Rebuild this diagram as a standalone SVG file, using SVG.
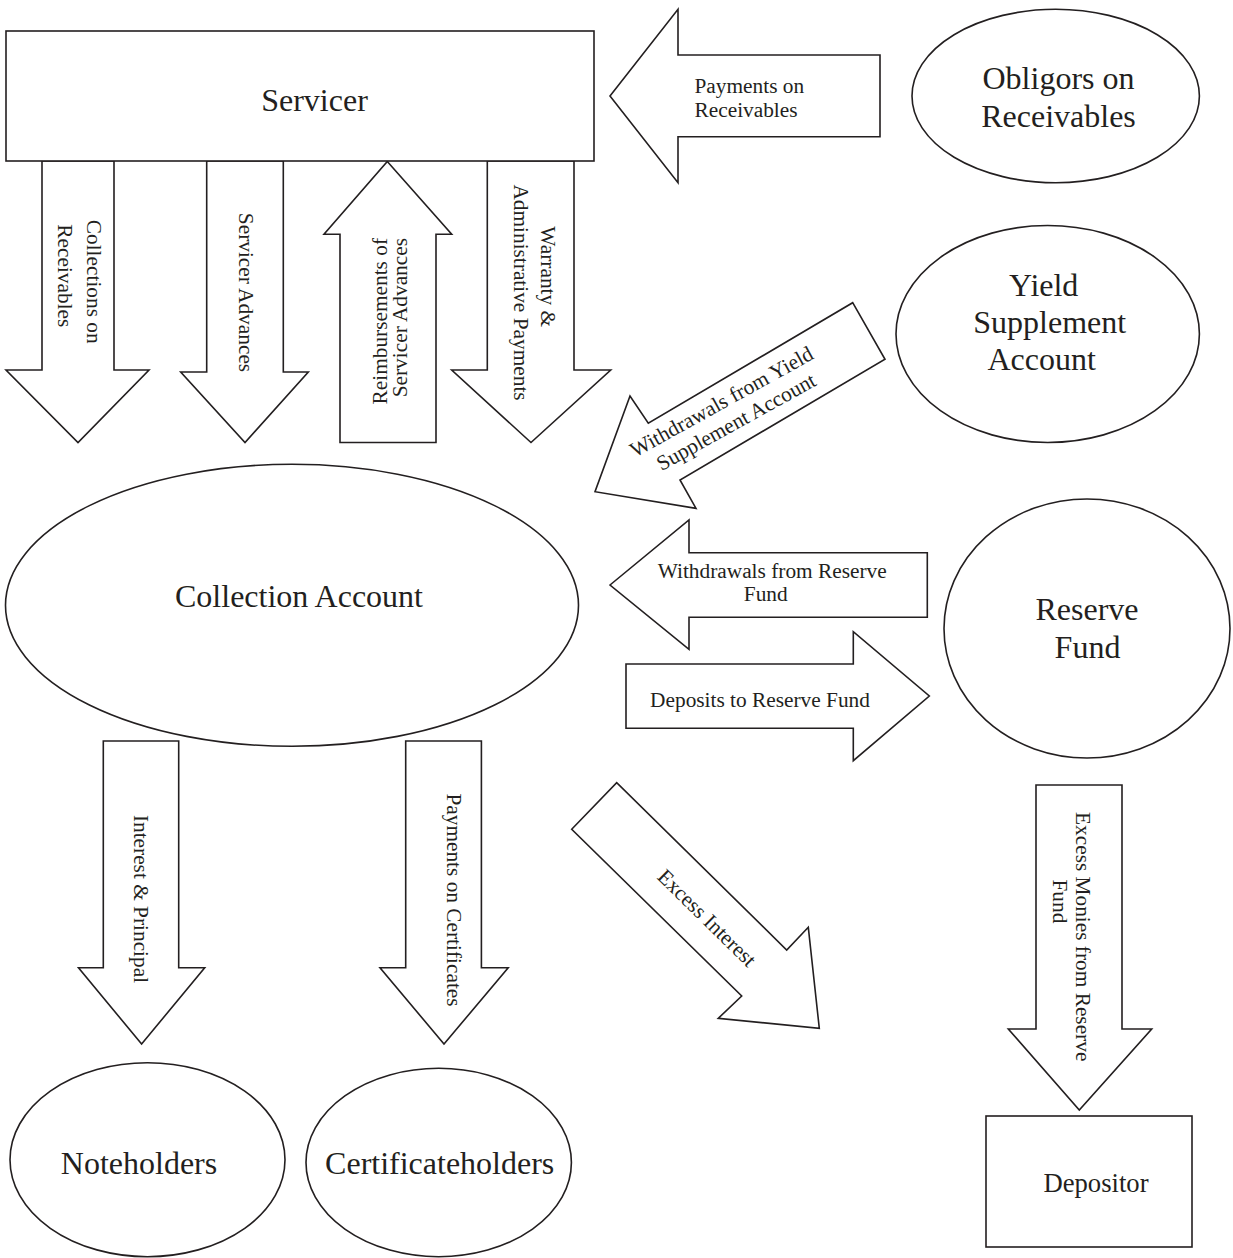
<svg xmlns="http://www.w3.org/2000/svg" width="1233" height="1258" viewBox="0 0 1233 1258">
<style>
  .shape { fill: #ffffff; stroke: #231f20; stroke-width: 1.6; stroke-linejoin: miter; }
  .big { font-family: "Liberation Serif", "Times New Roman", serif; font-size: 32px; fill: #231f20; text-anchor: middle; }
  .med { font-family: "Liberation Serif", "Times New Roman", serif; font-size: 26.67px; fill: #231f20; text-anchor: middle; }
  .lbl { font-family: "Liberation Serif", "Times New Roman", serif; font-size: 21.33px; fill: #231f20; text-anchor: middle; }
  .lbl-s { text-anchor: start; }
  .lbl-e { text-anchor: end; }
</style>
<rect width="1233" height="1258" fill="#ffffff"/>

<g id="connectors">
  <g id="arrow-collections">
    <polygon class="shape" points="42,161 114,161 114,370 149,370 78,442.5 6,370 42,370"/>
    <text class="lbl" transform="translate(86.5,281.7) rotate(90)">Collections on</text>
    <text class="lbl" transform="translate(57.5,275.8) rotate(90)">Receivables</text>
  </g>
  <g id="arrow-servicer-advances">
    <polygon class="shape" points="206.7,161 283.3,161 283.3,372 308.3,372 245,442.5 180.7,372 206.7,372"/>
    <text class="lbl" transform="translate(238.5,292.5) rotate(90)">Servicer Advances</text>
  </g>
  <g id="arrow-reimbursements">
    <polygon class="shape" points="387.3,161.5 451.7,234.3 436,234.3 436,442.5 340,442.5 340,234.3 324,234.3"/>
    <text class="lbl lbl-e" transform="translate(387.3,238) rotate(-90)">Reimbursements of</text>
    <text class="lbl lbl-e" transform="translate(407.3,238) rotate(-90)">Servicer Advances</text>
  </g>
  <g id="arrow-warranty">
    <polygon class="shape" points="487.3,161 574,161 574,370 610.7,370 531,442.5 451.7,370 487.3,370"/>
    <text class="lbl" transform="translate(541,276.7) rotate(90)">Warranty &amp;</text>
    <text class="lbl" transform="translate(513.7,292.5) rotate(90)">Administrative Payments</text>
  </g>
  <g id="arrow-payments-receivables">
    <polygon class="shape" points="610,96 678,9.3 678,55 880,55 880,136.7 678,136.7 678,182.7"/>
    <text class="lbl lbl-s" x="694.5" y="92.7">Payments on</text>
    <text class="lbl lbl-s" x="694.5" y="117.3">Receivables</text>
  </g>
  <g id="arrow-yield-withdrawals">
    <polygon class="shape" points="852.7,302.7 885,359.3 680,480 696,508.4 595,491.7 630,396 648.3,423.3"/>
    <text class="lbl" x="725" y="408" transform="rotate(-29 725 408)">Withdrawals from Yield</text>
    <text class="lbl" x="739.5" y="428" transform="rotate(-29 739.5 428)">Supplement Account</text>
  </g>
  <g id="arrow-reserve-withdrawals">
    <polygon class="shape" points="610,585 689,520 689,552.7 927.3,552.7 927.3,617.3 689,617.3 689,649.3"/>
    <text class="lbl" x="772.2" y="578.3">Withdrawals from Reserve</text>
    <text class="lbl" x="765.7" y="600.7">Fund</text>
  </g>
  <g id="arrow-reserve-deposits">
    <polygon class="shape" points="626,664 853.3,664 853.3,631.7 929.3,696 853.3,760.7 853.3,728.3 626,728.3"/>
    <text class="lbl" x="760" y="706.7">Deposits to Reserve Fund</text>
  </g>
  <g id="arrow-excess-interest">
    <polygon class="shape" points="571.7,829.3 616.7,782.7 786.7,950 808.3,927.3 819.3,1028.3 718.3,1018.3 741.7,996"/>
    <text class="lbl" x="702" y="923" transform="rotate(44.5 702 923)">Excess Interest</text>
  </g>
  <g id="arrow-interest-principal">
    <polygon class="shape" points="103.3,741 178.7,741 178.7,967.8 204.7,967.8 141.6,1044 78.5,967.8 103.3,967.8"/>
    <text class="lbl" transform="translate(133.5,899) rotate(90)">Interest &amp; Principal</text>
  </g>
  <g id="arrow-certificates">
    <polygon class="shape" points="405.7,741 481.4,741 481.4,967.8 508.2,967.8 444,1044 380,967.8 405.7,967.8"/>
    <text class="lbl" transform="translate(446.5,900) rotate(90)">Payments on Certificates</text>
  </g>
  <g id="arrow-excess-monies">
    <polygon class="shape" points="1036,785 1122,785 1122,1029 1151.7,1029 1079.3,1110 1008.3,1029 1036,1029"/>
    <text class="lbl lbl-s" transform="translate(1076,812) rotate(90)">Excess Monies from Reserve</text>
    <text class="lbl lbl-s" transform="translate(1053,879.5) rotate(90)">Fund</text>
  </g>
</g>

<g id="servicer">
  <rect class="shape" x="6" y="31" width="588" height="130"/>
  <text class="big" x="314.5" y="110.7">Servicer</text>
</g>
<g id="obligors">
  <ellipse class="shape" cx="1055.7" cy="96" rx="143.7" ry="86.7"/>
  <text class="big" x="1058.5" y="89.3">Obligors on</text>
  <text class="big" x="1058.5" y="126.7">Receivables</text>
</g>
<g id="yield-supplement">
  <ellipse class="shape" cx="1047.7" cy="334" rx="151.7" ry="108.5"/>
  <text class="big" x="1043.7" y="296">Yield</text>
  <text class="big" x="1049.7" y="333">Supplement</text>
  <text class="big" x="1041.7" y="370">Account</text>
</g>
<g id="collection-account">
  <ellipse class="shape" cx="292" cy="605.3" rx="286.5" ry="141"/>
  <text class="big" x="299" y="607">Collection Account</text>
</g>
<g id="reserve-fund">
  <ellipse class="shape" cx="1087" cy="628.5" rx="143" ry="129.5"/>
  <text class="big" x="1087" y="619.5">Reserve</text>
  <text class="big" x="1087.5" y="657.5">Fund</text>
</g>
<g id="noteholders">
  <ellipse class="shape" cx="147.5" cy="1159.7" rx="137.5" ry="97"/>
  <text class="big" x="139" y="1174">Noteholders</text>
</g>
<g id="certificateholders">
  <ellipse class="shape" cx="438.7" cy="1162.5" rx="132.7" ry="94.2"/>
  <text class="big" x="439.7" y="1174">Certificateholders</text>
</g>
<g id="depositor">
  <rect class="shape" x="986" y="1116" width="206" height="131"/>
  <text class="med" x="1096" y="1192">Depositor</text>
</g>
</svg>
